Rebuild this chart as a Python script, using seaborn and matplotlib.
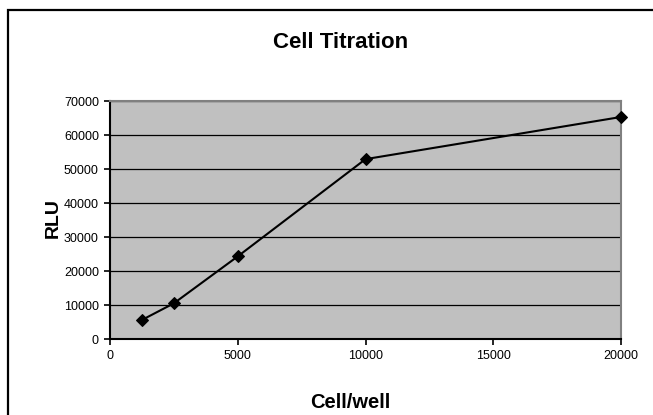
import matplotlib
matplotlib.use("Agg")
import matplotlib.pyplot as plt
import matplotlib.patches as patches
import seaborn as sns
import pandas as pd

# data
cells = [1250, 2500, 5000, 10000, 20000]
rlu = [5600, 10500, 24300, 52900, 65300]
x_ticks = [0, 5000, 10000, 15000, 20000]
y_ticks = [0, 10000, 20000, 30000, 40000, 50000, 60000, 70000]

df = pd.DataFrame({"Cell/well": cells, "RLU": rlu})

sns.set_style("white")
plt.rcParams["font.family"] = ["Liberation Sans", "DejaVu Sans"]
plt.rcParams["text.color"] = "black"

fig = plt.figure(figsize=(6.53, 4.15), dpi=100)
ax = fig.add_axes([110 / 653, 76 / 415, 511 / 653, 238 / 415])

# chart border (Excel style)
fig.patches.append(patches.Rectangle((8 / 653, -0.2), 1.2, 1.2 - 10 / 415,
                                     transform=fig.transFigure, fill=False,
                                     edgecolor="black", linewidth=1.6))

ax.set_facecolor("#C0C0C0")
sns.lineplot(data=df, x="Cell/well", y="RLU", ax=ax, color="black",
             marker="D", markersize=6.5, markeredgecolor="black",
             linewidth=1.5, zorder=3, clip_on=False)

ax.set_xlim(0, 20000)
ax.set_ylim(0, 70000)
ax.set_xticks(x_ticks)
ax.set_yticks(y_ticks)
ax.set_xticklabels([str(v) for v in x_ticks])
ax.set_yticklabels([str(v) for v in y_ticks])
ax.yaxis.grid(True, color="black", linewidth=0.9)
ax.xaxis.grid(False)
ax.set_axisbelow(True)
ax.tick_params(axis="both", direction="out", length=4, width=1.2, labelsize=9,
               colors="black", pad=4)
ax.tick_params(axis="both", left=True, bottom=True)

for s in ["left", "bottom"]:
    ax.spines[s].set_color("black")
    ax.spines[s].set_linewidth(1.5)
for s in ["top", "right"]:
    ax.spines[s].set_color("#808080")
    ax.spines[s].set_linewidth(1.5)

ax.set_xlabel("")
ax.set_ylabel("")
fig.text(341 / 653, 1 - 48 / 415, "Cell Titration", ha="center", va="baseline",
         fontsize=16, fontweight="bold", color="black")
fig.text(350 / 653, 1 - 408 / 415, "Cell/well", ha="center", va="baseline",
         fontsize=14.5, fontweight="bold", color="black")
fig.text(53 / 653, 1 - 218 / 415, "RLU", ha="center", va="center", rotation=90,
         fontsize=14, fontweight="bold", color="black")

fig.savefig("out.png", dpi=100)
